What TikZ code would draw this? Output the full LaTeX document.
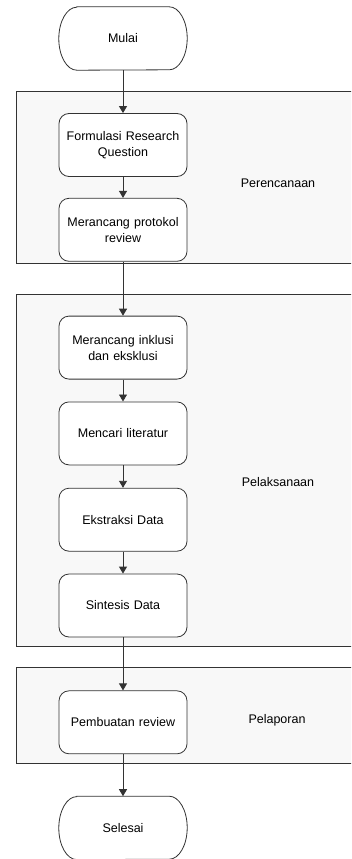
\documentclass[tikz,border=0pt]{standalone}
\usepackage{fontspec}
\setmainfont{Liberation Sans}
\usetikzlibrary{arrows.meta,positioning}
\definecolor{cLine}{HTML}{333333}
\definecolor{cLane}{HTML}{F8F8F8}
\tikzset{
  stepbox/.style={rounded corners=10pt,draw=cLine,line width=0.8pt,fill=white,
              minimum width=128pt,minimum height=63pt,inner sep=0pt,
              text width=122pt,align=center,font=\fontsize{12.5}{16}\selectfont},
  terminal/.style={minimum width=128pt,minimum height=63pt,inner sep=0pt,
              align=center,font=\fontsize{12.5}{16}\selectfont},
  lane/.style={draw=cLine,line width=0.8pt,fill=cLane,anchor=north west,
              inner sep=0pt},
  lanetext/.style={font=\fontsize{12.5}{16}\selectfont},
  flow/.style={-{Triangle[length=7pt,width=8pt]},line width=0.9pt,cLine},
}
\newcommand{\termoutline}[1]{%
  \draw[cLine,line width=0.8pt,fill=white]
    ([xshift=18pt]#1.north west) -- ([xshift=-18pt]#1.north east)
    arc[start angle=90,end angle=-90,x radius=18pt,y radius=31.5pt]
    -- ([xshift=18pt]#1.south west)
    arc[start angle=270,end angle=90,x radius=18pt,y radius=31.5pt] -- cycle;}

\begin{document}
\begin{tikzpicture}[x=1pt,y=1pt,node distance=21pt]
  \useasboundingbox (0,0) rectangle (351,-859);
  \clip (0,0) rectangle (351,-859);
  % lanes
  \node[lane,minimum width=344pt,minimum height=172pt] (plan) at (16,-91){};
  \node[lane,minimum width=344pt,minimum height=352pt] (exec) at (16,-294){};
  \node[lane,minimum width=344pt,minimum height=96pt] (report) at (16,-667){};
  \node[lanetext] (plantext) at (278,-183){Perencanaan};
  \node[lanetext] (exectext) at (278,-482){Pelaksanaan};
  \node[lanetext] (reporttext) at (277,-720){Pelaporan};
  % steps
  \node[terminal] (mulai) at (123,-38.5){};
  \termoutline{mulai}
  \node[terminal] at (mulai){Mulai};
  \node[stepbox] (rq) at (123,-145){Formulasi Research\\Question};
  \node[stepbox,below=of rq] (protokol){Merancang protokol\\review};
  \node[stepbox,below=54pt of protokol] (inklusi){Merancang inklusi\\dan eksklusi};
  \node[stepbox,below=22pt of inklusi] (literatur){Mencari literatur};
  \node[stepbox,below=22.5pt of literatur] (ekstraksi){Ekstraksi Data};
  \node[stepbox,below=22pt of ekstraksi] (sintesis){Sintesis Data};
  \node[stepbox,below=53pt of sintesis] (review){Pembuatan review};
  \node[terminal,below=42pt of review] (selesai){};
  \termoutline{selesai}
  \node[terminal] at (selesai){Selesai};
  % arrows
  \foreach \a/\b in {mulai/rq,rq/protokol,protokol/inklusi,inklusi/literatur,
      literatur/ekstraksi,ekstraksi/sintesis,sintesis/review,review/selesai}
    \draw[flow] (\a.south) -- (\b.north);
\end{tikzpicture}
\end{document}
